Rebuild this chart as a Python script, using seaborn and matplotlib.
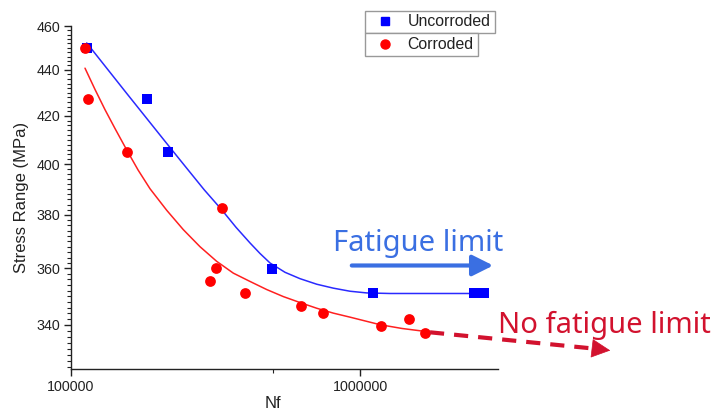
import numpy as np
import pandas as pd
import matplotlib
matplotlib.use("Agg")
import matplotlib.pyplot as plt
import seaborn as sns
from matplotlib.ticker import FixedLocator, FixedFormatter, NullFormatter
from matplotlib.lines import Line2D
from matplotlib.patches import FancyArrowPatch

# ---- data ----
unc_nf = [113300, 182800, 216000, 494900, 1112000, 2480000, 2680000]
unc_s = [450.0, 427.3, 405.0, 359.8, 351.0, 351.0, 351.0]
cor_nf = [111800, 114200, 156600, 332200, 316700, 303400, 400000, 626600,
          743000, 1182000, 1481000, 1683000]
cor_s = [450.0, 427.4, 405.0, 382.5, 360.0, 355.5, 351.0, 346.5,
         344.2, 339.7, 342.1, 337.4]

# fitted curves, sampled along the drawn lines
unc_fit_nf = [113330, 155860, 214400, 251400, 289000, 332300, 372300, 416300,
              450700, 488200, 550200, 620000, 708600, 808400, 923600,
              1055000, 1270000, 2680000]
unc_fit_s = [452.2, 429.7, 408.5, 398.4, 389.8, 382.0, 375.3, 369.4,
             365.5, 362.0, 358.6, 356.3, 354.3, 352.9, 351.8,
             351.2, 351.0, 351.0]
cor_fit_nf = [111800, 121100, 131100, 142000, 155900, 170600, 187700, 214400,
              244700, 279500, 319200, 364400, 416300, 475600, 542900, 620000,
              708600, 808400, 923600, 1040600, 1173000, 1397800, 1679000]
cor_fit_s = [440.8, 431.4, 422.7, 414.7, 405.8, 397.7, 390.2, 381.8,
             374.4, 368.0, 362.6, 358.3, 355.3, 352.4, 349.9, 347.8,
             345.8, 344.1, 342.7, 341.4, 340.1, 338.8, 337.8]

y_major = [340, 360, 380, 400, 420, 440, 460]
x_major = [100000, 1000000]
x_labels = ["100000", "1000000"]
legend_labels = ["Uncorroded", "Corroded"]
ann_fatigue = "Fatigue limit"
ann_nofatigue = "No fatigue limit"

BLUE = "#0000ff"
RED = "#ff0000"
TXT_BLUE = "#3a6fe2"
TXT_RED = "#d2122e"

sns.set_style("ticks")
plt.rcParams['font.family'] = ['Liberation Sans', 'DejaVu Sans']

W, H = 714, 416
fig = plt.figure(figsize=(W / 100, H / 100), dpi=100)
ax = fig.add_axes([71 / W, 1 - 369 / H, (498 - 71) / W, (369 - 26) / H])

df_unc = pd.DataFrame({"Nf": unc_nf, "S": unc_s})
df_cor = pd.DataFrame({"Nf": cor_nf, "S": cor_s})
df_ufit = pd.DataFrame({"Nf": unc_fit_nf, "S": unc_fit_s})
df_cfit = pd.DataFrame({"Nf": cor_fit_nf, "S": cor_fit_s})

sns.lineplot(data=df_ufit, x="Nf", y="S", ax=ax, color="#2a2aff", lw=1.1, legend=False)
sns.lineplot(data=df_cfit, x="Nf", y="S", ax=ax, color="#ff2020", lw=1.1, legend=False)
sns.scatterplot(data=df_unc, x="Nf", y="S", ax=ax, marker="s", color=BLUE,
                s=48, linewidth=0, legend=False, zorder=3)
sns.scatterplot(data=df_cor, x="Nf", y="S", ax=ax, marker="o", color=RED,
                s=60, linewidth=0, legend=False, zorder=4)

ax.set_xscale("log")
ax.set_yscale("log")
ax.set_xlim(1e5, 10 ** (5 + 427 / 289))
ax.set_ylim(325.2, 460)

ax.xaxis.set_major_locator(FixedLocator(x_major))
ax.xaxis.set_major_formatter(FixedFormatter(x_labels))
ax.xaxis.set_minor_locator(FixedLocator([500000]))
ax.xaxis.set_minor_formatter(NullFormatter())
ax.yaxis.set_major_locator(FixedLocator(y_major))
ax.yaxis.set_major_formatter(FixedFormatter([str(v) for v in y_major]))
ax.yaxis.set_minor_locator(FixedLocator(list(range(326, 461, 2))))
ax.yaxis.set_minor_formatter(NullFormatter())

for sp in ["top", "right"]:
    ax.spines[sp].set_visible(False)
for sp in ["left", "bottom"]:
    ax.spines[sp].set_color("#222222")
    ax.spines[sp].set_linewidth(1.0)
ax.tick_params(axis="both", which="major", direction="out", length=5, width=1,
               color="#222222", labelsize=10.3, labelcolor="#222222", pad=3)
ax.tick_params(axis="both", which="minor", direction="out", length=3, width=0.8,
               color="#222222")

ax.set_xlabel("Nf", fontsize=12, color="#222222")
ax.set_ylabel("Stress Range (MPa)", fontsize=12, color="#222222")
ax.xaxis.set_label_coords((273 - 71) / (498 - 71), -0.08)
ax.yaxis.set_label_coords((29 - 71) / (498 - 71), 0.5)

# legends (Origin style, two stacked boxes)
h1 = [Line2D([], [], marker="s", color=BLUE, ls="none", markersize=5.5)]
h2 = [Line2D([], [], marker="o", color=RED, ls="none", markersize=6.5)]
common = dict(loc="upper left", bbox_transform=fig.transFigure, frameon=True,
              fancybox=False, framealpha=1, edgecolor="#999999", fontsize=11.4,
              borderpad=0.24, handlelength=2.05, handletextpad=0.41,
              borderaxespad=0, labelcolor="#222222")
l1 = fig.legend(h1, [legend_labels[0]], bbox_to_anchor=(365 / W, 1 - 10.5 / H), **common)
l2 = fig.legend(h2, [legend_labels[1]], bbox_to_anchor=(365 / W, 1 - 33.3 / H), **common)
for lg in (l1, l2):
    lg.get_frame().set_linewidth(1.0)

# annotations
def fp(x, y):
    return (x / W, 1 - y / H)

fig.text(*fp(333, 251), ann_fatigue, color=TXT_BLUE, fontsize=21,
         family=["Noto Sans", "DejaVu Sans"], ha="left", va="baseline")
fig.text(*fp(498, 333), ann_nofatigue, color=TXT_RED, fontsize=21,
         family=["Noto Sans", "DejaVu Sans"], ha="left", va="baseline")

fig.add_artist(FancyArrowPatch(
    fp(349, 265.5), fp(496, 265.5), transform=fig.transFigure,
    arrowstyle="-|>,head_length=0.9,head_width=0.45", mutation_scale=14,
    color=TXT_BLUE, lw=3))

x0, y0, x1, y1 = 430, 332.3, 600, 349.2
fig.add_artist(Line2D([x0 / W, x1 / W], [1 - y0 / H, 1 - y1 / H],
                      transform=fig.transFigure, color=TXT_RED, lw=3,
                      linestyle=(0, (3.4, 2.4)), solid_capstyle="butt",
                      dash_capstyle="butt"))
fig.add_artist(FancyArrowPatch(
    fp(596, 348.8), fp(613, 350.8), transform=fig.transFigure,
    arrowstyle="-|>,head_length=0.9,head_width=0.45", mutation_scale=14,
    color=TXT_RED, lw=0.5))

fig.savefig("out.png", dpi=100)
